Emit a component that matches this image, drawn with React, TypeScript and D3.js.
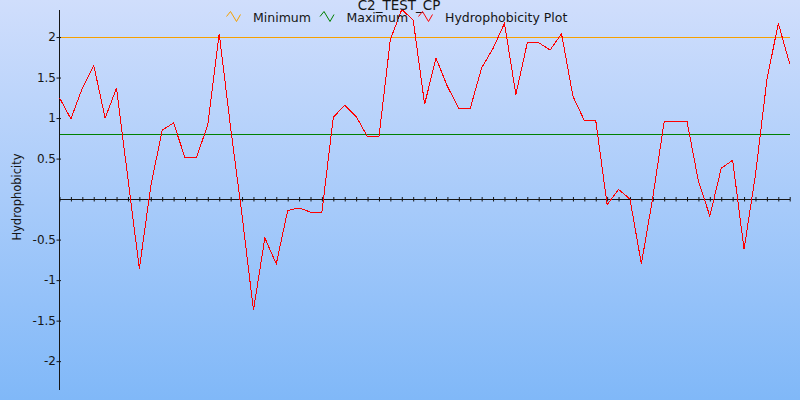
import { useEffect, useRef } from "react";
import * as d3 from "d3";

// hydrophobicity per residue window
const hydro = [
  1.25, 0.99, 1.37, 1.65, 1.0, 1.37, 0.25, -0.86, 0.16, 0.85,
  0.94, 0.51, 0.51, 0.92, 2.04, 0.88, -0.2, -1.37, -0.48, -0.8,
  -0.14, -0.11, -0.16, -0.16, 1.01, 1.16, 1.02, 0.77, 0.77, 1.97,
  2.34, 2.21, 1.17, 1.74, 1.39, 1.12, 1.12, 1.62, 1.86, 2.17,
  1.29, 1.93, 1.93, 1.84, 2.04, 1.27, 0.97, 0.97, -0.07, 0.12,
  0.0, -0.8, 0.02, 0.96, 0.96, 0.96, 0.22, -0.21, 0.38, 0.48,
  -0.62, 0.3, 1.47, 2.17, 1.67,
];
const minimumLevel = 2.0;
const maximumLevel = 0.8;
const yTicks = [-2, -1.5, -1, -0.5, 0.5, 1, 1.5, 2];
const legendItems = [
  { label: "Minimum", color: "#f5a000" },
  { label: "Maximum", color: "#008000" },
  { label: "Hydrophobicity Plot", color: "#ff0000" },
];

export default function App() {
  const ref = useRef<SVGSVGElement>(null);

  useEffect(() => {
    if (!ref.current) return;
    const svg = d3.select(ref.current);
    svg.selectAll("*").remove();

    const width = 800;
    const height = 400;
    const font = "DejaVu Sans, Verdana, sans-serif";
    const ink = "#151515";

    // background gradient
    const grad = svg.append("defs").append("linearGradient")
      .attr("id", "bg")
      .attr("x1", 0).attr("y1", 0).attr("x2", 0).attr("y2", 1);
    grad.append("stop").attr("offset", "0%").attr("stop-color", "#d0defc");
    grad.append("stop").attr("offset", "100%").attr("stop-color", "#80b8f8");
    svg.append("rect").attr("width", width).attr("height", height).attr("fill", "url(#bg)");

    const x = d3.scaleLinear().domain([0, hydro.length - 1]).range([59.5, 789.7]);
    const y = d3.scaleLinear().domain([-2.35, 2.34]).range([389.5, 9.5]);
    const snap = (v: number) => Math.round(v - 0.5) + 0.5;

    // reference lines
    const refs = [
      { v: minimumLevel, color: legendItems[0].color },
      { v: maximumLevel, color: legendItems[1].color },
    ];
    svg.selectAll(".ref")
      .data(refs)
      .enter()
      .append("line")
      .attr("x1", x(0)).attr("x2", x(hydro.length - 1))
      .attr("y1", d => snap(y(d.v))).attr("y2", d => snap(y(d.v)))
      .attr("stroke", d => d.color)
      .attr("stroke-width", 1)
      .attr("shape-rendering", "crispEdges");

    // x axis along zero
    const xAxis = svg.append("g")
      .attr("transform", `translate(0,${snap(y(0)) - 0.5})`)
      .call(d3.axisBottom(x).tickValues(d3.range(hydro.length)).tickFormat(() => "").tickSize(2).tickSizeOuter(0));
    xAxis.selectAll(".tick line").attr("y1", -2).attr("y2", 2.5).attr("stroke", ink);
    xAxis.select(".domain").attr("stroke", ink).attr("shape-rendering", "crispEdges");

    // y axis
    const yAxis = svg.append("g")
      .attr("transform", `translate(${x(0) - 0.5},0)`)
      .call(d3.axisLeft(y).tickValues(yTicks).tickFormat(d => String(d)).tickSize(2).tickPadding(1).tickSizeOuter(0));
    yAxis.selectAll(".tick line").attr("x1", -2.5).attr("x2", 2).attr("stroke", ink);
    yAxis.select(".domain").attr("stroke", ink).attr("shape-rendering", "crispEdges");
    yAxis.selectAll("text")
      .attr("font-size", 12)
      .attr("font-family", font)
      .attr("fill", ink);
    yAxis.attr("font-family", font);

    // hydrophobicity curve
    const line = d3.line<number>()
      .x((_, i) => x(i))
      .y(d => y(d));
    svg.append("path")
      .datum(hydro)
      .attr("d", line)
      .attr("fill", "none")
      .attr("stroke", legendItems[2].color)
      .attr("stroke-width", 1)
      .attr("shape-rendering", "crispEdges");

    // axis title
    svg.append("text")
      .attr("transform", `translate(21,197) rotate(-90)`)
      .attr("text-anchor", "middle")
      .attr("font-size", 11.5)
      .attr("font-family", font)
      .attr("fill", ink)
      .text("Hydrophobicity");

    // chart title
    svg.append("text")
      .attr("x", 399)
      .attr("y", 10)
      .attr("text-anchor", "middle")
      .attr("font-size", 13.5)
      .attr("font-family", font)
      .attr("fill", ink)
      .text("C2_TEST_CP");

    // legend
    const legendX = [226.5, 320, 418.5];
    const icon = [[0, 5], [4, 0], [10, 10], [14, 3]];
    const items = svg.selectAll(".legend")
      .data(legendItems)
      .enter()
      .append("g")
      .attr("transform", (_, i) => `translate(${legendX[i]},11.5)`);
    items.append("polyline")
      .attr("points", icon.map(p => p.join(",")).join(" "))
      .attr("fill", "none")
      .attr("stroke", d => d.color)
      .attr("stroke-width", 1);
    items.append("text")
      .attr("x", 26.5)
      .attr("y", 10.5)
      .attr("font-size", 12.5)
      .attr("font-family", font)
      .attr("fill", ink)
      .text(d => d.label);
  }, []);

  return (
    <svg
      ref={ref}
      width={800}
      height={400}
      style={{ position: "fixed", left: 0, top: 0, display: "block" }}
    />
  );
}
